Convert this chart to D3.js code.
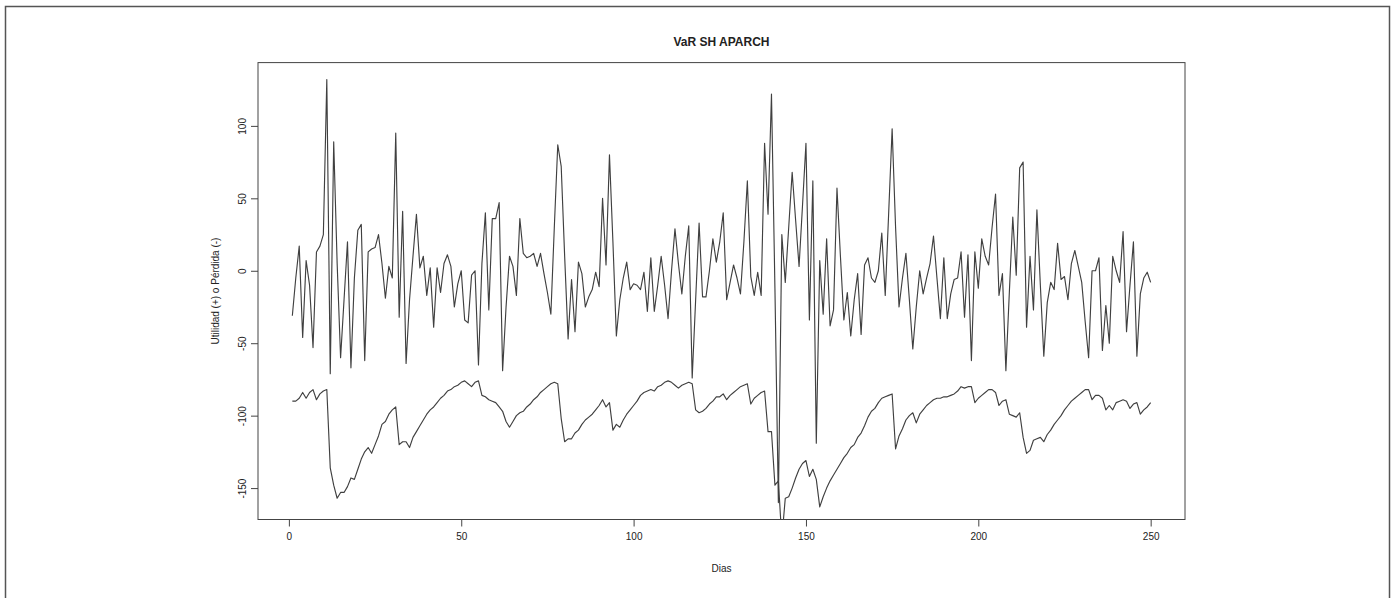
<!DOCTYPE html>
<html>
<head>
<meta charset="utf-8">
<script src="https://cdn.jsdelivr.net/npm/d3@7"></script>
<style>
  html, body { margin: 0; padding: 0; background: #fff; }
  svg { display: block; }
  text { font-family: "Liberation Sans", Arial, Helvetica, sans-serif; fill: #222; }
</style>
</head>
<body>
<svg id="chart" width="1395" height="598"></svg>
<script>
// Labels
const chartTitle = "VaR SH APARCH";
const xTitle = "Dias";
const yTitle = "Utilidad (+) o Pérdida (-)";
const xTickValues = [0, 50, 100, 150, 200, 250];
const yTickValues = [-150, -100, -50, 0, 50, 100];

// Daily profit (+) / loss (-), days 1..250
const pnl = [
  -31, -5, 17, -46, 7, -10, -53, 13, 17, 25,
  132, -71, 89, 5, -60, -20, 20, -67, -5, 28,
  32, -62, 13, 15, 16, 25, 5, -19, 3, -5,
  95, -32, 41, -64, -20, 10, 39, 2, 10, -17,
  2, -39, 2, -15, 5, 11, 3, -25, -9, 0,
  -34, -36, -3, 0, -65, 5, 40, -27, 36, 36,
  47, -69, -25, 10, 3, -17, 36, 12, 9, 10,
  12, 3, 12, -2, -15, -30, 30, 87, 72, 10,
  -47, -6, -42, 6, -2, -25, -18, -13, -1, -11,
  50, 4, 80, 20, -45, -20, -5, 6, -13, -9,
  -10, -13, -1, -28, 9, -28, -10, 10, -10, -33,
  0, 29, 5, -16, 10, 31, -74, -20, 33, -18,
  -18, 0, 22, 6, 20, 40, -20, -8, 4, -5,
  -16, 20, 62, -4, -17, -1, -17, 88, 39, 122,
  -12, -160, 25, -8, 30, 68, 35, 3, 45, 88,
  -34, 62, -119, 7, -30, 22, -38, -27, 57, 10,
  -34, -15, -45, -20, -2, -44, 4, 9, -5, -8,
  0, 26, -17, 40, 98, 30, -25, -5, 12, -20,
  -54, -25, 0, -16, -5, 5, 24, -5, -33, 9,
  -33, -16, -6, -5, 13, -32, 11, -62, 13, -12,
  22, 10, 4, 30, 53, -17, -2, -69, -15, 37,
  -3, 71, 75, -39, 10, -27, 42, -10, -59, -22,
  -8, -13, 19, -6, -4, -20, 5, 14, 3, -8,
  -35, -60, 0, 0, 9, -55, -24, -50, 10, 0,
  -8, 27, -42, -10, 20, -59, -16, -5, -1, -8
];

// Value at Risk estimate, days 1..250
const valueAtRisk = [
  -90, -90, -88, -84, -88, -84, -82, -89, -85, -83,
  -82, -136, -148, -157, -153, -153, -149, -143, -144, -137,
  -130, -125, -122, -126, -120, -114, -106, -104, -99, -96,
  -94, -120, -118, -118, -122, -115, -111, -107, -103, -99,
  -96, -94, -91, -88, -86, -83, -82, -80, -79, -77,
  -76, -78, -80, -77, -76, -86, -87, -89, -90, -91,
  -94, -97, -104, -108, -104, -100, -98, -97, -94, -92,
  -89, -87, -84, -82, -80, -78, -77, -78, -102, -118,
  -116, -116, -112, -110, -106, -103, -101, -99, -96, -93,
  -89, -94, -91, -110, -106, -108, -103, -99, -96, -93,
  -90, -86, -84, -83, -82, -83, -80, -79, -77, -76,
  -77, -79, -81, -79, -78, -77, -78, -96, -98, -97,
  -95, -92, -90, -87, -87, -85, -89, -86, -84, -82,
  -80, -79, -78, -92, -88, -86, -84, -83, -111, -111,
  -148, -145, -185, -157, -156, -150, -143, -137, -133, -131,
  -142, -137, -144, -163, -156, -150, -145, -141, -137, -133,
  -129, -126, -122, -120, -115, -112, -107, -101, -97, -95,
  -91, -88, -87, -86, -85, -123, -114, -109, -103, -100,
  -98, -105, -99, -96, -93, -91, -89, -88, -88, -87,
  -87, -86, -85, -83, -80, -81, -80, -80, -91, -88,
  -86, -84, -82, -82, -84, -93, -90, -89, -99, -100,
  -101, -98, -115, -126, -124, -117, -116, -115, -118, -113,
  -110, -106, -103, -100, -96, -93, -90, -88, -86, -84,
  -82, -82, -89, -86, -86, -88, -96, -93, -96, -91,
  -90, -89, -90, -95, -92, -91, -99, -96, -94, -91
];

const W = 1395, H = 598;
const box = { left: 258, right: 1185, top: 62.6, bottom: 519.5 };
const svg = d3.select("#chart");

// Outer frame of the figure
svg.append("rect")
  .attr("x", 5.5).attr("y", 6.5)
  .attr("width", 1384).attr("height", H)
  .attr("fill", "none").attr("stroke", "#555").attr("stroke-width", 1.5);

// Axis ranges padded by 4% on each side; y range follows the P&L series
const pad = ([lo, hi]) => { const d = (hi - lo) * 0.04; return [lo - d, hi + d]; };
const x = d3.scaleLinear().domain(pad([1, pnl.length])).range([box.left, box.right]);
const y = d3.scaleLinear().domain(pad(d3.extent(pnl))).range([box.bottom, box.top]);

svg.append("defs").append("clipPath").attr("id", "plotClip")
  .append("rect")
  .attr("x", box.left).attr("y", box.top)
  .attr("width", box.right - box.left).attr("height", box.bottom - box.top);

const line = d3.line()
  .x((d, i) => x(i + 1))
  .y(d => y(d));

const lines = svg.append("g").attr("clip-path", "url(#plotClip)");
[pnl, valueAtRisk].forEach(series => {
  lines.append("path")
    .datum(series)
    .attr("d", line)
    .attr("fill", "none")
    .attr("stroke", "#404040")
    .attr("stroke-width", 1.15)
    .attr("stroke-linejoin", "round");
});

// Plot box
svg.append("rect")
  .attr("x", box.left).attr("y", box.top)
  .attr("width", box.right - box.left).attr("height", box.bottom - box.top)
  .attr("fill", "none").attr("stroke", "#444").attr("stroke-width", 1);

// Plain hyphen-minus for negative tick labels
const plainNumber = d => String(d);

// Bottom axis
const gx = svg.append("g")
  .attr("transform", `translate(0,${box.bottom})`)
  .call(d3.axisBottom(x).tickValues(xTickValues).tickSize(7).tickPadding(6).tickFormat(plainNumber));
gx.select(".domain").remove();
gx.selectAll(".tick line").attr("stroke", "#444");
gx.selectAll(".tick text").attr("font-size", 10).attr("fill", "#222")
  .attr("font-family", "'Liberation Sans', Arial, sans-serif");

// Left axis, labels drawn vertically
const gy = svg.append("g")
  .attr("transform", `translate(${box.left},0)`)
  .call(d3.axisLeft(y).tickValues(yTickValues).tickSize(7).tickFormat(plainNumber));
gy.select(".domain").remove();
gy.selectAll(".tick line").attr("stroke", "#444");
gy.selectAll(".tick text")
  .attr("font-size", 10).attr("fill", "#222")
  .attr("font-family", "'Liberation Sans', Arial, sans-serif")
  .attr("transform", "rotate(-90)")
  .attr("x", 0).attr("y", -12.5).attr("dy", 0)
  .attr("text-anchor", "middle");

// Titles
svg.append("text")
  .attr("x", (box.left + box.right) / 2).attr("y", 46)
  .attr("text-anchor", "middle")
  .attr("font-size", 12).attr("font-weight", "bold")
  .text(chartTitle);

svg.append("text")
  .attr("x", (box.left + box.right) / 2).attr("y", 572)
  .attr("text-anchor", "middle")
  .attr("font-size", 10)
  .text(xTitle);

svg.append("text")
  .attr("transform", `translate(219,${(box.top + box.bottom) / 2}) rotate(-90)`)
  .attr("text-anchor", "middle")
  .attr("font-size", 10)
  .text(yTitle);
</script>
</body>
</html>
